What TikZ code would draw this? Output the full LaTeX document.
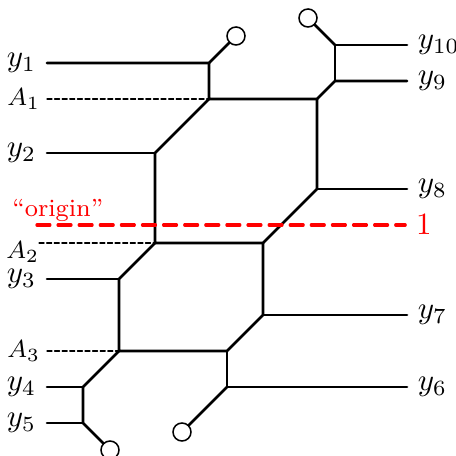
\documentclass[tikz,border=0pt]{standalone}
\usepackage{amsmath}
\usepackage{tikz}
\usetikzlibrary{calc}
\definecolor{ffqqqq}{rgb}{1.,0.,0.}
\tikzstyle{every node}=[font=\normalsize]

\begin{document}
\begin{tikzpicture}[line cap=round,line join=round,x=5.8pt,y=5.8pt,
    edge/.style={line width=0.85pt},
    guide/.style={line width=0.4pt,dash pattern=on 1.6pt off 0.85pt},
    alab/.style={left,font=\footnotesize,inner sep=2pt},
    leaf/.style={circle,draw,line width=0.5pt,inner sep=0pt,minimum size=5.8pt}]
    \useasboundingbox (-2.611,-1.833) rectangle (22.722,23.5);
    % vertices of the curve
    \coordinate (v1) at (9,20);
    \coordinate (v2) at (9,18);
    \coordinate (v3) at (15,18);
    \coordinate (v4) at (6,15);
    \coordinate (v5) at (16,19);
    \coordinate (v6) at (15,13);
    \coordinate (v7) at (16,21);
    \coordinate (v8) at (6,10);
    \coordinate (v9) at (12,10);
    \coordinate (v10) at (4,8);
    \coordinate (v11) at (12,6);
    \coordinate (v12) at (4,4);
    \coordinate (v13) at (10,4);
    \coordinate (v14) at (2,2);
    \coordinate (v15) at (10,2);
    \coordinate (v16) at (2,0);
    % open ends
    \node[leaf] (c1) at (10.5,21.5) {};
    \node[leaf] (c2) at (14.5,22.5) {};
    \node[leaf] (c3) at (3.5,-1.5) {};
    \node[leaf] (c4) at (7.5,-0.5) {};
    % labels
    \node[left] (y1) at (0,20) {$y_1$};
    \node[left] (y2) at (0,15) {$y_2$};
    \node[left] (y3) at (0,8) {$y_3$};
    \node[left] (y4) at (0,2) {$y_4$};
    \node[left] (y5) at (0,0) {$y_5$};
    \node[right] (y6) at (20,2) {$y_6$};
    \node[right] (y7) at (20,6) {$y_7$};
    \node[right] (y8) at (20,13) {$y_8$};
    \node[right] (y9) at (20,19) {$y_9$};
    \node[right] (y10) at (20,21) {$y_{10}$};
    \node[alab] (A1) at (0,18) {$A_1$};
    \node[alab] (A2) at (-0.06,9.5) {$A_2$};
    \node[alab] (A3) at (0,4) {$A_3$};
    \coordinate (a2) at (-0.44,10);
    % edges
    \draw[edge] (y1) -- (v1) -- (c1);
    \draw[edge] (v1) -- (v2) -- (v3) -- (v5) -- (y9);
    \draw[edge] (v5) -- (v7) -- (y10);
    \draw[edge] (v7) -- (c2);
    \draw[edge] (v2) -- (v4) -- (v8) -- (v9) -- (v6) -- (v3);
    \draw[edge] (y2) -- (v4);
    \draw[edge] (v6) -- (y8);
    \draw[edge] (v8) -- (v10) -- (v12) -- (v13) -- (v11) -- (v9);
    \draw[edge] (y3) -- (v10);
    \draw[edge] (v11) -- (y7);
    \draw[edge] (v12) -- (v14) -- (v16) -- (c3);
    \draw[edge] (y4) -- (v14);
    \draw[edge] (y5) -- (v16);
    \draw[edge] (v13) -- (v15) -- (y6);
    \draw[edge] (v15) -- (c4);
    \draw[guide] (A1) -- (v2);
    \draw[guide] (a2) -- (v8);
    \draw[guide] (A3) -- (v12);
    % origin line
    \coordinate (o) at (-0.56,11);
    \node[right,color=ffqqqq] (one) at (19.9,11) {$1$};
    \node[above,color=ffqqqq,font=\footnotesize,inner sep=0pt] (orig) at (0.6,11.17) {``origin''};
    \draw[color=ffqqqq,line width=1pt,dash pattern=on 4.2pt off 2.6pt] (o) -- (one);
\end{tikzpicture}
\end{document}
